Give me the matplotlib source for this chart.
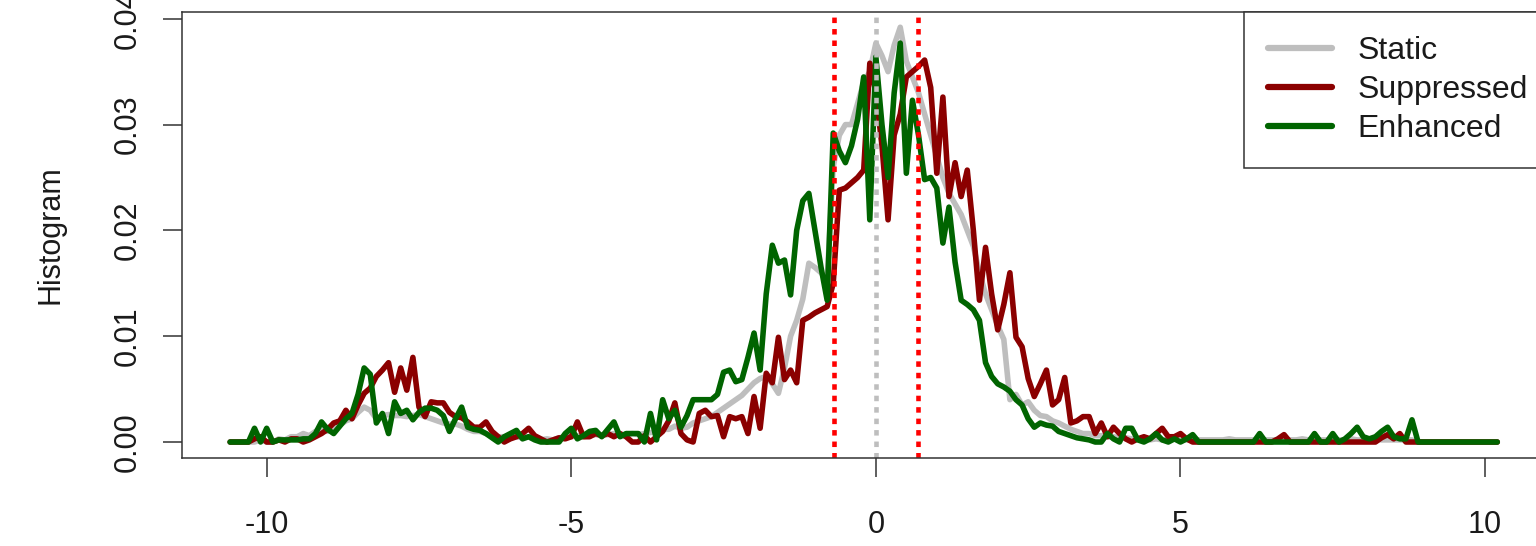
import numpy as np
import matplotlib
matplotlib.use("Agg")
import matplotlib.pyplot as plt

plt.rcParams['font.family'] = ['Liberation Sans', 'DejaVu Sans']
plt.rcParams['axes.unicode_minus'] = False

# ---------------- data (histogram density, in units of 1e-4) ----------------
bin_start = -10.6
bin_step = 0.1

static_e4 = [
    0, 0, 0, 0, 0, 2, 0, 0, 3, 2,                 # -10.6 .. -9.7
    5, 5, 8, 6, 10, 12, 10, 14, 16, 20,           # -9.6 .. -8.7
    22, 28, 33, 30, 22, 25, 26, 25, 25, 24,       # -8.6 .. -7.7
    25, 26, 24, 22, 20, 18, 17, 17, 15, 12,       # -7.6 .. -6.7
    10, 10, 8, 6, 5, 5, 4, 5, 4, 5,               # -6.6 .. -5.7
    3, 2, 3, 2, 4, 5, 5, 6, 5, 6,                 # -5.6 .. -4.7
    7, 6, 7, 8, 7, 6, 8, 7, 8, 9,                 # -4.6 .. -3.7
    10, 12, 12, 15, 13, 14, 18, 20, 22, 24,       # -3.6 .. -2.7
    28, 32, 36, 40, 44, 50, 56, 60, 62, 55,       # -2.6 .. -1.7
    46, 70, 100, 115, 135, 169, 165, 160, 153, 260,   # -1.6 .. -0.7
    290, 300, 300, 320, 340, 350, 377, 365, 350, 375, # -0.6 .. 0.3
    392, 360, 345, 330, 310, 290, 270, 250, 235, 225, # 0.4 .. 1.3
    215, 200, 185, 160, 140, 125, 110, 97, 40, 45,    # 1.4 .. 2.3
    35, 38, 30, 25, 24, 20, 18, 15, 12, 10,       # 2.4 .. 3.3
    8, 8, 6, 6, 5, 5, 4, 4, 3, 3,                 # 3.4 .. 4.3
    3, 2, 3, 2, 2, 3, 2, 2, 2, 2,                 # 4.4 .. 5.3
    2, 2, 2, 2, 3, 2, 2, 2, 2, 2,                 # 5.4 .. 6.3
    2, 2, 2, 2, 2, 2, 3, 2, 2, 2,                 # 6.4 .. 7.3
    2, 2, 2, 2, 3, 2, 2, 2, 3, 2,                 # 7.4 .. 8.3
    2, 2, 2, 2, 2, 0, 0, 0, 0, 0,                 # 8.4 .. 9.3
    0, 0, 0, 0, 0, 0, 0, 0, 0,                    # 9.4 .. 10.2
]

suppressed_e4 = [
    0, 0, 0, 0, 3, 5, 0, 0, 2, 0,                 # -10.6 .. -9.7
    3, 3, 0, 2, 5, 8, 12, 18, 20, 30,             # -9.6 .. -8.7
    22, 35, 46, 51, 62, 68, 75, 47, 70, 49,       # -8.6 .. -7.7
    80, 33, 24, 38, 37, 37, 28, 24, 23, 19,       # -7.6 .. -6.7
    14, 14, 19, 10, 5, 0, 3, 5, 8, 13,            # -6.6 .. -5.7
    6, 3, 0, 2, 4, 3, 5, 19, 5, 5,                # -5.6 .. -4.7
    8, 6, 8, 5, 8, 5, 0, 0, 6, 0,                 # -4.6 .. -3.7
    5, 10, 20, 37, 8, 2, 0, 27, 30, 24,           # -3.6 .. -2.7
    25, 5, 24, 22, 24, 8, 43, 13, 65, 56,         # -2.6 .. -1.7
    99, 59, 68, 56, 115, 118, 122, 125, 128, 150,     # -1.6 .. -0.7
    238, 240, 245, 250, 257, 358, 330, 280, 210, 290, # -0.6 .. 0.3
    310, 345, 350, 355, 361, 335, 254, 326, 232, 264, # 0.4 .. 1.3
    232, 257, 200, 134, 184, 140, 106, 130, 160, 99,  # 1.4 .. 2.3
    90, 60, 43, 55, 68, 35, 40, 61, 18, 20,       # 2.4 .. 3.3
    24, 24, 8, 18, 5, 14, 8, 3, 0, 3,             # 3.4 .. 4.3
    5, 3, 8, 13, 5, 5, 8, 3, 0, 0,                # 4.4 .. 5.3
    0, 0, 0, 0, 0, 0, 0, 0, 0, 0,                 # 5.4 .. 6.3
    0, 0, 3, 7, 0, 0, 0, 0, 0, 0,                 # 6.4 .. 7.3
    0, 0, 0, 0, 0, 0, 0, 0, 0, 4,                 # 7.4 .. 8.3
    7, 3, 8, 0, 0, 0, 0, 0, 0, 0,                 # 8.4 .. 9.3
    0, 0, 0, 0, 0, 0, 0, 0, 0,                    # 9.4 .. 10.2
]

enhanced_e4 = [
    0, 0, 0, 0, 13, 0, 13, 0, 2, 2,               # -10.6 .. -9.7
    2, 2, 3, 3, 8, 19, 12, 8, 15, 22,             # -9.6 .. -8.7
    27, 45, 70, 64, 18, 27, 8, 38, 27, 30,        # -8.6 .. -7.7
    21, 28, 32, 32, 30, 25, 10, 22, 33, 14,       # -7.6 .. -6.7
    12, 11, 8, 4, 0, 5, 8, 11, 3, 5,              # -6.6 .. -5.7
    2, 0, 0, 0, 0, 8, 13, 3, 6, 10,               # -5.6 .. -4.7
    11, 5, 12, 19, 5, 8, 8, 8, 0, 27,             # -4.6 .. -3.7
    2, 40, 22, 30, 14, 25, 40, 40, 40, 40,        # -3.6 .. -2.7
    45, 66, 68, 57, 59, 80, 103, 68, 140, 186,    # -2.6 .. -1.7
    169, 172, 139, 200, 228, 235, 200, 165, 134, 292, # -1.6 .. -0.7
    275, 264, 280, 305, 345, 210, 364, 300, 250, 330, # -0.6 .. 0.3
    377, 254, 323, 290, 248, 250, 240, 188, 222, 170, # 0.4 .. 1.3
    134, 130, 125, 115, 75, 62, 55, 52, 48, 40,   # 1.4 .. 2.3
    35, 22, 14, 18, 16, 15, 10, 8, 6, 4,          # 2.4 .. 3.3
    3, 2, 0, 0, 8, 3, 0, 13, 13, 2,               # 3.4 .. 4.3
    0, 3, 8, 2, 0, 3, 0, 3, 7, 0,                 # 4.4 .. 5.3
    0, 0, 0, 0, 0, 0, 0, 0, 0, 8,                 # 5.4 .. 6.3
    0, 0, 0, 0, 0, 0, 0, 0, 8, 0,                 # 6.4 .. 7.3
    0, 8, 0, 3, 8, 14, 5, 3, 5, 10,               # 7.4 .. 8.3
    14, 5, 3, 3, 21, 0, 0, 0, 0, 0,               # 8.4 .. 9.3
    0, 0, 0, 0, 0, 0, 0, 0, 0,                    # 9.4 .. 10.2
]

series_labels = ["Static", "Suppressed", "Enhanced"]
series_colors = ["#BEBEBE", "#8B0000", "#006400"]
threshold_lines = [-0.69, 0.69]
center_line = 0.0
x_ticks = [-10, -5, 0, 5, 10]
y_ticks = [0.00, 0.01, 0.02, 0.03, 0.04]
y_label = "Histogram"

# ---------------- figure ----------------
W, H = 1536, 546
fig = plt.figure(figsize=(W / 100, H / 100), dpi=100)
ax = fig.add_axes([182 / W, 88 / H, 1364 / W, 446 / H])

scale = 1e-4
x = bin_start + bin_step * np.arange(len(static_e4))
series = [np.array(static_e4) * scale,
          np.array(suppressed_e4) * scale,
          np.array(enhanced_e4) * scale]

handles = []
for vals, lab, col in zip(series, series_labels, series_colors):
    h, = ax.plot(x, vals, color=col, lw=4.0, label=lab,
                 solid_joinstyle='round', solid_capstyle='round')
    handles.append(h)

ax.axvline(center_line, color="#BEBEBE", lw=3.3, linestyle=(0, (1.2, 1.3)))
for t in threshold_lines:
    ax.axvline(t, color="#FF0000", lw=3.3, linestyle=(0, (1.2, 1.3)))

ax.set_xlim(-11.39, 11.0)
ax.set_ylim(-0.00151, 0.04064)

ax.set_xticks(x_ticks)
ax.set_xticklabels([str(v) for v in x_ticks])
ax.set_yticks(y_ticks)
ax.set_yticklabels([f"{v:.2f}" for v in y_ticks], rotation=90, va='center')

txt_col = "#1a1a1a"
ax.tick_params(axis='both', direction='out', length=13.5, width=1.1,
               labelsize=22, color="#333333", labelcolor=txt_col)
ax.tick_params(axis='x', pad=24)
ax.tick_params(axis='y', pad=15)
for sp in ax.spines.values():
    sp.set_color("#333333")
    sp.set_linewidth(1.1)

fig.text(50 / W, 1 - 235 / H, y_label, rotation=90, ha='center', va='center',
         fontsize=22, color=txt_col)

leg = ax.legend(handles=handles, loc='upper right',
                bbox_to_anchor=((1552 - 182) / 1364, 1),
                borderaxespad=0, fontsize=23, frameon=True, fancybox=False,
                edgecolor="#333333", framealpha=1, handlelength=2.0,
                handletextpad=0.8, borderpad=0.75, labelspacing=0.28)
leg.get_frame().set_linewidth(1.1)
for t in leg.get_texts():
    t.set_color(txt_col)
for lh in leg.get_lines():
    lh.set_linewidth(4.5)

fig.savefig("out.png", dpi=100)
